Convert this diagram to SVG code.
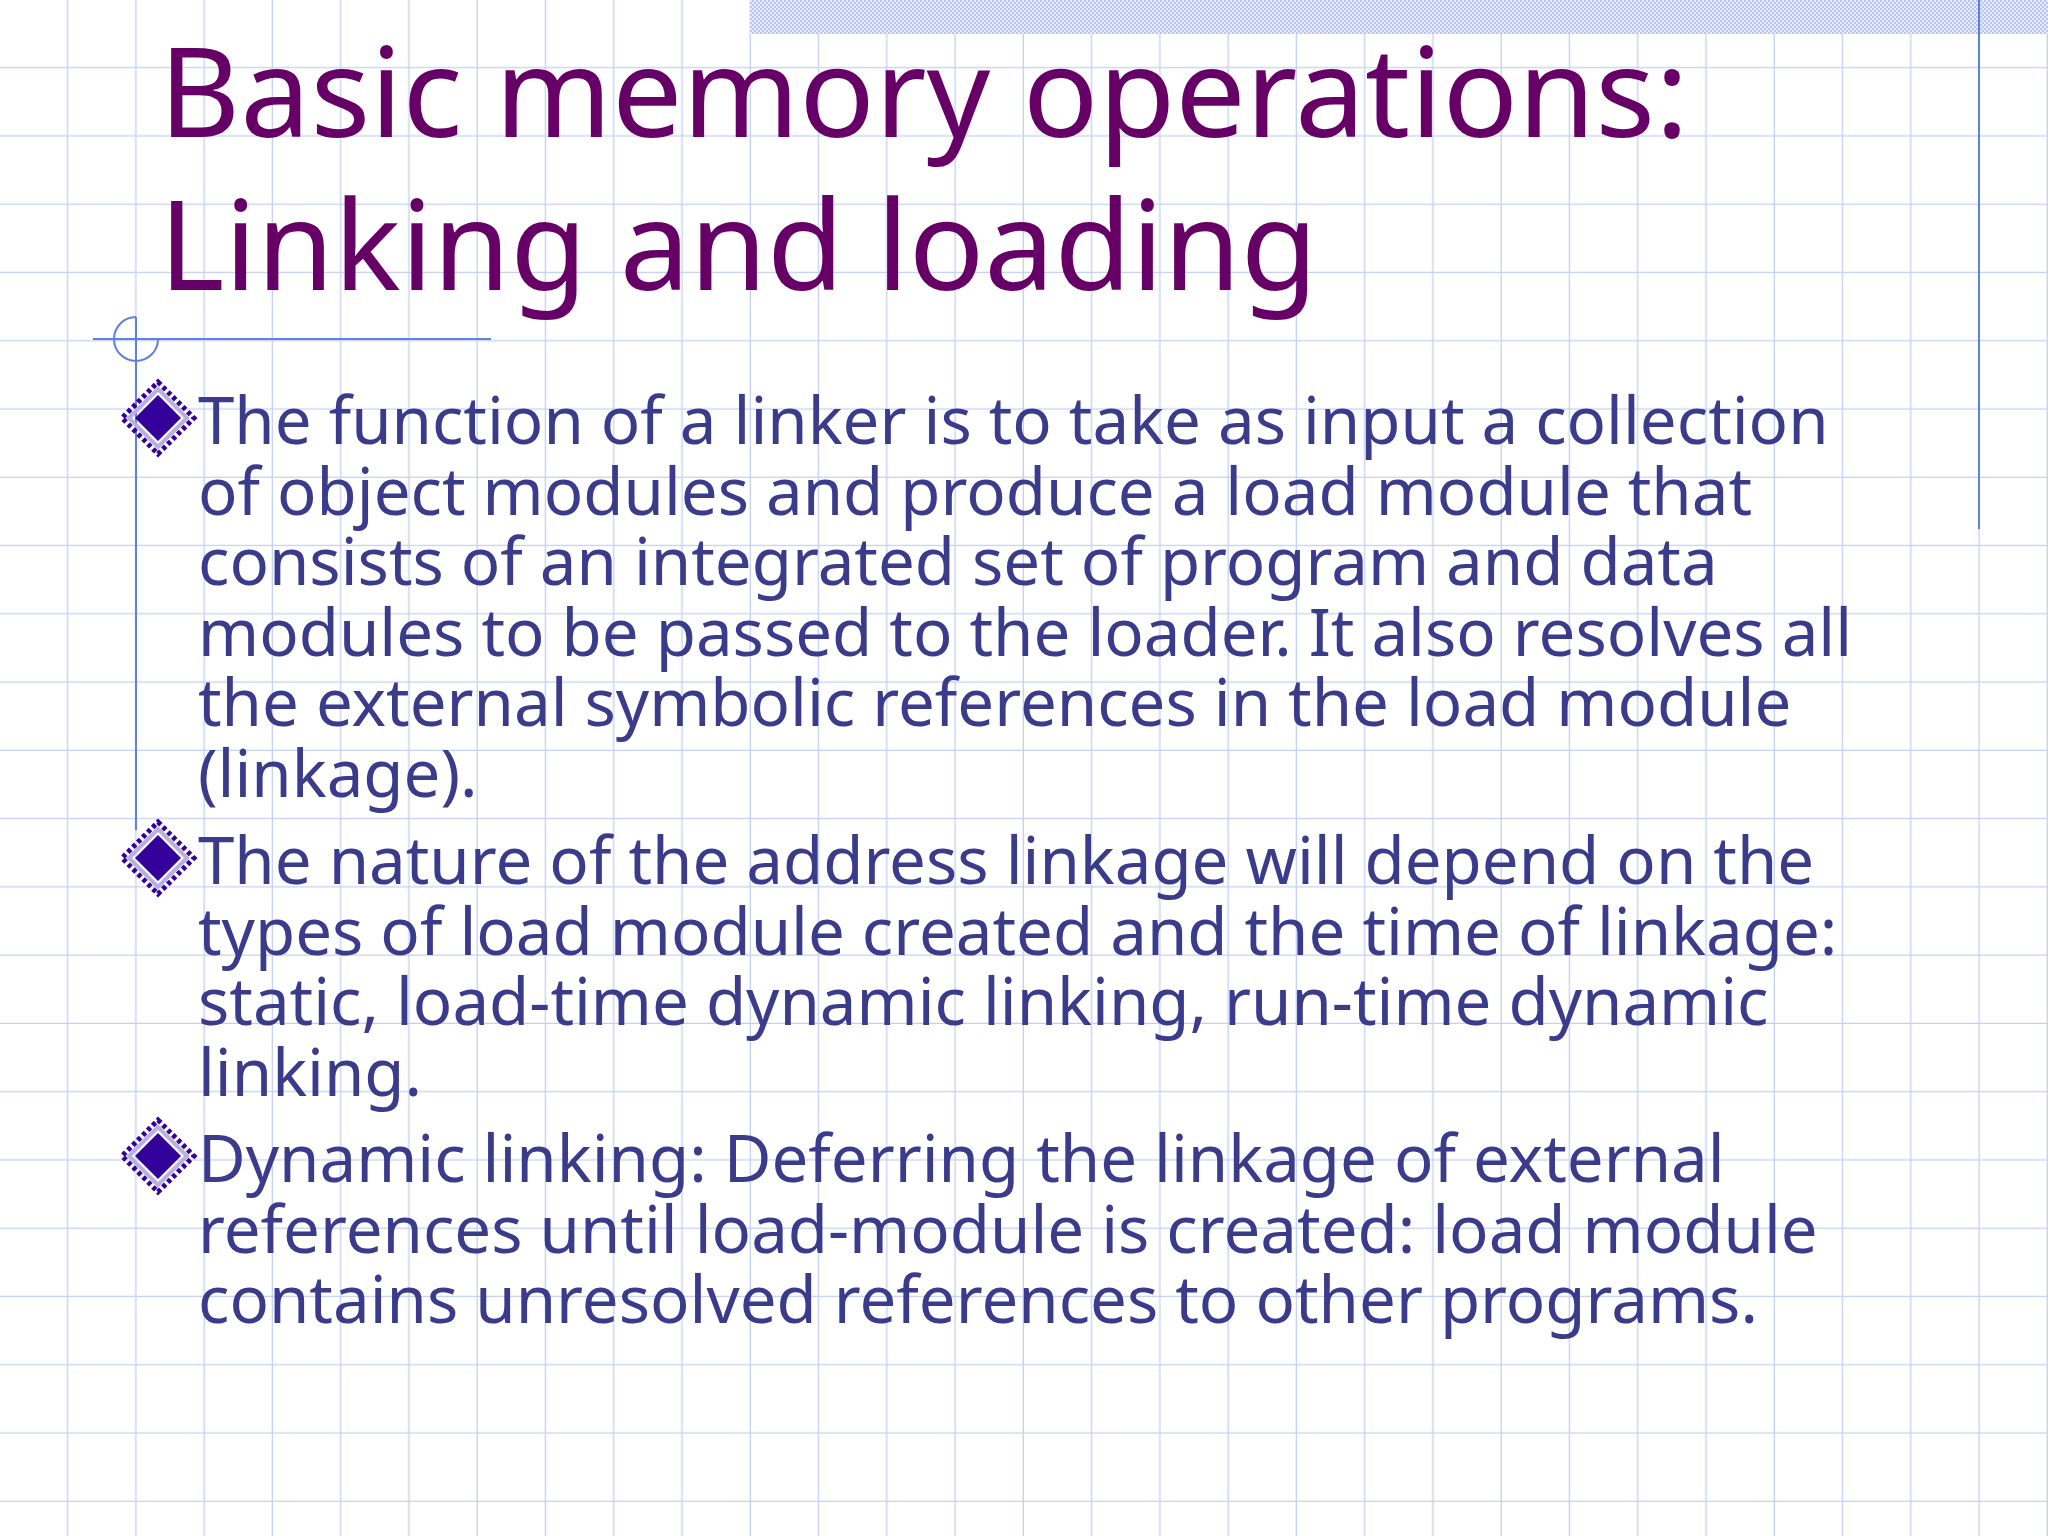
<svg xmlns="http://www.w3.org/2000/svg" width="2048" height="1536" viewBox="0 0 2048 1536">
<defs>
<pattern id="grid" width="68.267" height="68.267" patternUnits="userSpaceOnUse">
<path d="M68.267 0V68.267M0 68.267H68.267" stroke="#c3d0f6" stroke-width="2.6" fill="none"/>
</pattern>
<pattern id="dots" width="4" height="4" patternUnits="userSpaceOnUse">
<rect width="4" height="4" fill="#e6ebfb"/>
<rect width="2" height="2" fill="#b9c7f2"/>
<rect x="2" y="2" width="2" height="2" fill="#b9c7f2"/>
</pattern>
<g id="bullet">
<polygon points="0,-36 36,0 0,36 -36,0" fill="none" stroke="#330099" stroke-width="5" stroke-dasharray="4 3"/>
<polygon points="0,-29 29,0 0,29 -29,0" fill="none" stroke="#b8b0e0" stroke-width="4"/>
<polygon points="0,-23 23,0 0,23 -23,0" fill="#330099"/>
</g>
<style>
.title{font-family:"Noto Sans","Open Sans",sans-serif;font-size:125px;fill:#660066}
.body{font-family:"Noto Sans","Open Sans",sans-serif;font-size:65.4px;fill:#3b3b8c}
</style>
</defs>
<rect width="2048" height="1536" fill="#ffffff"/>
<rect width="2048" height="1536" fill="url(#grid)"/>
<rect x="750" y="0" width="1298" height="34" fill="url(#dots)"/>
<g id="decor" stroke="#6080e0" fill="none" stroke-width="2">
<line x1="1979" y1="0" x2="1979" y2="529"/>
<line x1="93" y1="339" x2="491" y2="339"/>
<line x1="136" y1="317" x2="136" y2="830"/>
<path d="M136 317 A22 22 0 1 0 158 339"/>
</g>
<g id="title">
<text class="title" x="159" y="137">Basic memory operations:</text>
<text class="title" x="159" y="290">Linking and loading</text>
</g>
<g id="bullets">
<use href="#bullet" x="158" y="418"/>
<use href="#bullet" x="158" y="858"/>
<use href="#bullet" x="158" y="1156"/>
</g>
<g id="body" class="body">
<text class="body" x="198" y="444">The function of a linker is to take as input a collection</text>
<text class="body" x="198" y="515">of object modules and produce a load module that</text>
<text class="body" x="198" y="585">consists of an integrated set of program and data</text>
<text class="body" x="198" y="656">modules to be passed to the loader. It also resolves all</text>
<text class="body" x="198" y="726">the external symbolic references in the load module</text>
<text class="body" x="198" y="797">(linkage).</text>
<text class="body" x="198" y="884">The nature of the address linkage will depend on the</text>
<text class="body" x="198" y="955">types of load module created and the time of linkage:</text>
<text class="body" x="198" y="1025">static, load-time dynamic linking, run-time dynamic</text>
<text class="body" x="198" y="1096">linking.</text>
<text class="body" x="198" y="1182">Dynamic linking: Deferring the linkage of external</text>
<text class="body" x="198" y="1253">references until load-module is created: load module</text>
<text class="body" x="198" y="1323">contains unresolved references to other programs.</text>
</g>
</svg>
